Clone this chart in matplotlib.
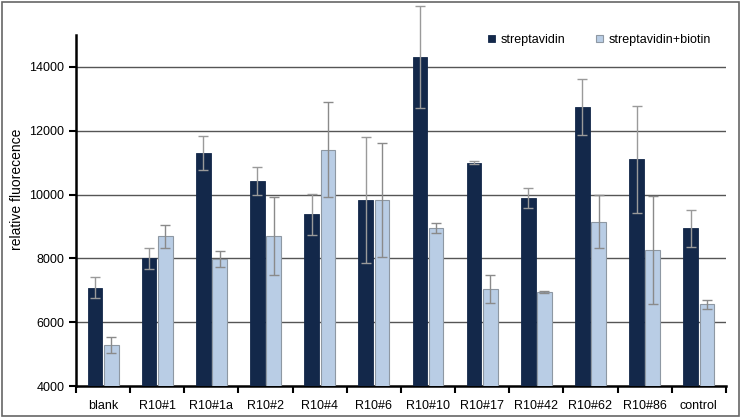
import numpy as np
import matplotlib.pyplot as plt
from matplotlib.patches import Rectangle

plt.rcParams["font.family"] = ["Liberation Sans", "DejaVu Sans"]
plt.rcParams.update({'font.size': 9})

# data
samples = ['blank', 'R10#1', 'R10#1a', 'R10#2', 'R10#4', 'R10#6', 'R10#10',
           'R10#17', 'R10#42', 'R10#62', 'R10#86', 'control']
strep = [7080, 8000, 11300, 10420, 9380, 9820, 14300, 11000, 9900, 12750, 11100, 8950]
strep_err = [330, 340, 520, 430, 650, 1980, 1600, 50, 320, 870, 1680, 580]
biotin = [5300, 8700, 7980, 8700, 11400, 9830, 8950, 7030, 6950, 9150, 8270, 6560]
biotin_err = [250, 360, 240, 1220, 1490, 1800, 150, 440, 20, 840, 1690, 150]

dark = '#13284a'
light = '#b9cde5'

fig = plt.figure(figsize=(7.41, 4.17), dpi=100)
ax = fig.add_axes([0.1026, 0.0743, 0.877, 0.8417])

x = np.arange(len(samples))
w = 0.27
ax.bar(x - 0.15, strep, width=w, color=dark, edgecolor=dark, linewidth=0.6,
       label='streptavidin', zorder=3)
ax.bar(x + 0.15, biotin, width=w, color=light, edgecolor='#8e98a3', linewidth=0.8,
       label='streptavidin+biotin', zorder=3)
ax.errorbar(x - 0.15, strep, yerr=strep_err, fmt='none', ecolor='#9a9a9a',
            elinewidth=1, capsize=3.5, capthick=1, zorder=4, clip_on=False)
ax.errorbar(x + 0.15, biotin, yerr=biotin_err, fmt='none', ecolor='#8a8a8a',
            elinewidth=1, capsize=3.5, capthick=1, zorder=4, clip_on=False)

ax.set_ylim(4000, 15000)
ax.set_xlim(-0.5, len(samples) - 0.5)
ax.set_yticks([4000, 6000, 8000, 10000, 12000, 14000])
for yv in [6000, 8000, 10000, 12000, 14000]:
    ax.axhline(yv, color='#555555', linewidth=1, zorder=1)

ax.set_xticks(x)
ax.set_xticklabels(samples)
ax.set_xticks(np.arange(-0.5, len(samples)), minor=True)
ax.tick_params(axis='x', which='major', length=0, pad=10)
ax.tick_params(axis='x', which='minor', length=5, width=1.5, direction='out')
ax.tick_params(axis='y', length=5, width=1.5, direction='out')

for s in ['top', 'right']:
    ax.spines[s].set_visible(False)
ax.spines['left'].set_linewidth(1.8)
ax.spines['bottom'].set_linewidth(1.8)

ax.set_ylabel('relative fluorecence', fontsize=10)
ax.yaxis.set_label_coords(-0.08, 0.56)

ax.legend(loc='upper right', bbox_to_anchor=(0.995, 1.035), ncol=2, frameon=False,
          handlelength=0.55, handleheight=0.55, columnspacing=2.4, handletextpad=0.5,
          fontsize=9)

fig.patches.append(Rectangle((0.003, 0.003), 0.994, 0.992, transform=fig.transFigure,
                             fill=False, edgecolor='#666666', linewidth=1.2))

plt.savefig('out.png', dpi=100)
